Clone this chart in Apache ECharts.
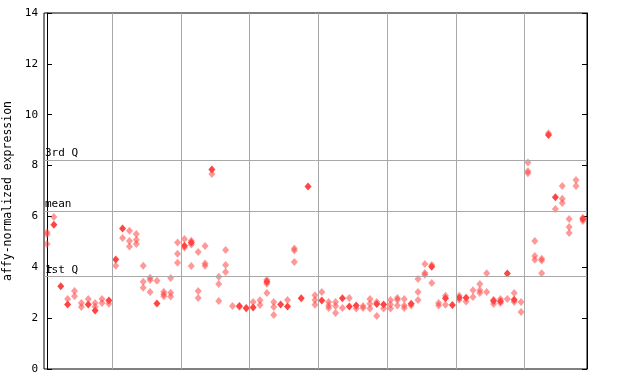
<!DOCTYPE html>
<html>
<head>
<meta charset="utf-8">
<script src="https://cdn.jsdelivr.net/npm/echarts@6/dist/echarts.min.js"></script>
<style>html,body{margin:0;padding:0;background:#fff;}#c{width:640px;height:384px;}</style>
</head>
<body>
<div id="c"></div>
<script>
// Replicate (hollow/checkered) values per sample, in sample order
const replicateValues = [
  [5.38, 5.3, 4.92], [5.98], [], [2.75], [3.07, 2.86], [2.6, 2.44], [2.75], [2.6, 2.45], [2.75, 2.6], [2.57],
  [4.06], [5.15], [5.44, 5.03, 4.82], [5.31, 5.08, 4.92], [4.06, 3.43, 3.2], [3.59, 3.5, 3.03], [3.47], [3.04, 2.94, 2.86], [3.58, 3.0, 2.85], [4.97, 4.53, 4.18],
  [5.11, 4.78], [5.04, 4.9, 4.05], [4.6, 3.07, 2.79], [4.84, 4.15, 4.06], [7.67], [3.63, 3.34, 2.67], [4.68, 4.09, 3.81], [2.48], [2.45], [2.38],
  [2.63], [2.7, 2.52], [3.51, 3.35, 2.99], [2.63, 2.44, 2.12], [], [2.71], [4.74, 4.66, 4.21], [], [], [2.9, 2.71, 2.53],
  [3.03], [2.63, 2.5, 2.4], [2.63, 2.48, 2.2], [2.4], [2.79], [2.38], [2.48, 2.4], [2.75, 2.57, 2.38], [2.63, 2.08], [2.38],
  [2.71, 2.54, 2.38], [2.79, 2.72, 2.5], [2.75, 2.5, 2.4], [2.5], [3.54, 3.03, 2.71], [4.13, 3.78, 3.71], [4.09, 3.38], [2.6, 2.5], [2.88, 2.53], [],
  [2.88, 2.72], [2.65], [3.1, 2.83], [3.34, 3.1, 2.99], [3.77, 3.03], [2.72, 2.56], [2.75, 2.6], [2.75], [2.99, 2.63], [2.63, 2.24],
  [8.12, 7.78, 7.7], [5.03, 4.44, 4.3], [4.34, 4.27, 3.77], [9.27], [6.29], [7.2, 6.7, 6.53], [5.9, 5.58, 5.35], [7.43, 7.2], [5.95, 5.82]
];
// Solid (filled) values per sample, null where absent
const solidValues = [
  null, 5.67, 3.25, 2.54, null, null, 2.54, 2.3, null, 2.69,
  4.31, 5.53, null, null, null, null, 2.58, null, null, null,
  4.85, 4.97, null, null, 7.85, null, null, null, 2.48, 2.4,
  2.42, null, 3.43, null, 2.54, 2.46, null, 2.78, 7.18, null,
  2.69, null, null, 2.78, 2.46, 2.5, null, null, 2.56, 2.54,
  null, null, null, 2.57, null, null, 4.02, null, 2.78, 2.52,
  2.8, 2.8, null, null, null, 2.67, 2.66, 3.76, 2.72, null,
  null, null, null, 9.2, 6.75, null, null, null, 5.9
];
const groupSizes = [10, 10, 10, 10, 10, 10, 10, 9];
const quartileLabels = ['3rd Q', 'mean', '1st Q'];
const quartileValues = [8.22, 6.21, 3.63];
const yTicks = [0, 2, 4, 6, 8, 10, 12, 14];
const yTitle = 'affy-normalized expression';

const repData = [];
replicateValues.forEach((arr, i) => arr.forEach(v => repData.push([i, v])));
const solidData = [];
solidValues.forEach((v, i) => { if (v !== null) solidData.push([i, v]); });

const boundaries = [];
let cum = 0;
for (let g = 0; g < groupSizes.length - 1; g++) { cum += groupSizes[g]; boundaries.push(cum - 0.5); }

const mono = 'DejaVu Sans Mono';
const markData = boundaries.map(b => ({ xAxis: b, label: { show: false } }))
  .concat(quartileValues.map((q, k) => ({
    yAxis: q,
    label: { show: true, formatter: quartileLabels[k], position: 'insideStartTop', distance: [1, 1],
             color: '#000', fontFamily: mono, fontSize: 11, padding: 0 }
  })));

const chart = echarts.init(document.getElementById('c'), null, { renderer: 'canvas' });
chart.setOption({
  animation: false,
  grid: { left: 44, right: 53, top: 13, bottom: 15, containLabel: false, outerBoundsMode: 'none',
          show: true, borderColor: '#000', borderWidth: 1, backgroundColor: 'transparent' },
  xAxis: { type: 'value', min: -0.44, max: 78.6, axisLabel: { show: false }, axisTick: { show: false }, splitLine: { show: false }, axisLine: { show: false } },
  yAxis: [
    { type: 'value', min: 0, max: 14, interval: 2, position: 'left',
      name: yTitle, nameLocation: 'middle', nameGap: 25, nameRotate: 90,
      nameTextStyle: { fontFamily: mono, fontSize: 11.5, color: '#000' },
      axisLine: { show: true, lineStyle: { color: '#000' } },
      axisTick: { show: true, inside: true, length: 5, lineStyle: { color: '#000' } },
      axisLabel: { fontFamily: mono, fontSize: 11, color: '#000', margin: 6,
                   formatter: v => yTicks.indexOf(v) >= 0 ? String(v) : '' },
      splitLine: { show: false } },
    { type: 'value', min: 0, max: 14, interval: 2, position: 'right',
      axisLine: { show: true, lineStyle: { color: '#000' } },
      axisTick: { show: true, inside: true, length: 5, lineStyle: { color: '#000' } },
      axisLabel: { show: false }, splitLine: { show: false } }
  ],
  series: [
    { type: 'scatter', data: repData, symbol: 'diamond', symbolSize: [7, 8],
      itemStyle: { color: 'rgba(255,70,70,0.55)', opacity: 1 }, z: 3,
      markLine: { silent: true, symbol: 'none', animation: false,
        lineStyle: { color: '#a8a8a8', width: 1, type: 'solid' },
        data: markData }, },
    { type: 'scatter', data: solidData, symbol: 'diamond', symbolSize: [7, 8],
      itemStyle: { color: '#ff4444', opacity: 1 }, z: 4 }
  ]
});
</script>
</body>
</html>
